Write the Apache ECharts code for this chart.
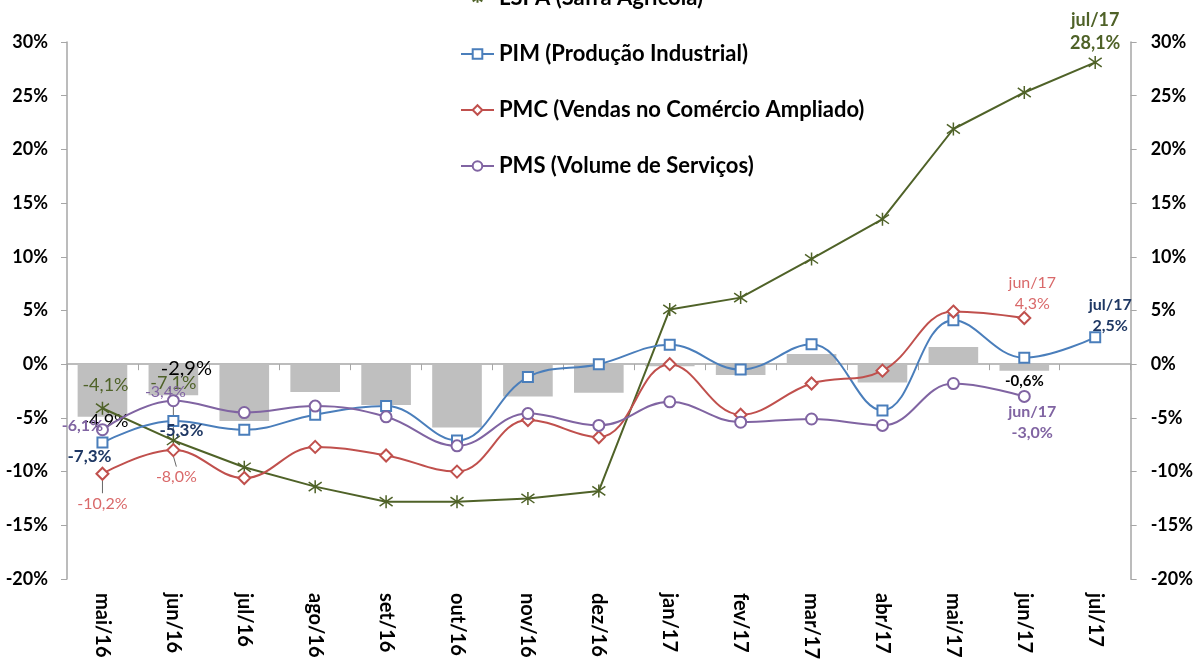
<!DOCTYPE html>
<html>
<head>
<meta charset="utf-8">
<script src="https://cdn.jsdelivr.net/npm/echarts@6/dist/echarts.min.js"></script>
<style>
  html, body { margin: 0; padding: 0; background: #fff; }
  #grafico { width: 1196px; height: 664px; }
</style>
</head>
<body>
<div id="grafico"></div>
<script>
// categorias (meses)
const meses = ['mai/16', 'jun/16', 'jul/16', 'ago/16', 'set/16', 'out/16', 'nov/16', 'dez/16',
  'jan/17', 'fev/17', 'mar/17', 'abr/17', 'mai/17', 'jun/17', 'jul/17'];
// barras cinzas
const barras = [-4.9, -2.9, -5.3, -2.6, -3.8, -5.9, -3.0, -2.65, -0.2, -1.0, 0.95, -1.7, 1.6, -0.6, null];
// LSPA (Safra Agrícola)
const lspa = [-4.1, -7.1, -9.6, -11.4, -12.8, -12.8, -12.5, -11.8, 5.1, 6.2, 9.8, 13.5, 21.9, 25.3, 28.1];
// PIM (Produção Industrial)
const pim = [-7.3, -5.3, -6.1, -4.7, -3.9, -7.1, -1.2, 0.0, 1.8, -0.5, 1.85, -4.3, 4.1, 0.6, 2.5];
// PMC (Vendas no Comércio Ampliado)
const pmc = [-10.2, -8.0, -10.6, -7.7, -8.5, -10.0, -5.2, -6.8, 0.0, -4.7, -1.8, -0.6, 4.9, 4.3, null];
// PMS (Volume de Serviços)
const pms = [-6.1, -3.4, -4.5, -3.9, -4.9, -7.6, -4.6, -5.7, -3.5, -5.4, -5.1, -5.7, -1.8, -3.0, null];
// marcas do eixo y
const eixoMin = -20, eixoMax = 30, eixoPasso = 5;

const fonte = 'Lato';
const pct = v => v.toFixed(1).replace('.', ',') + '%';

// monta os dados com rótulos em alguns pontos
// off = deslocamento do rótulo; linha = linha guia até o ponto
// comLayout = a série desloca os rótulos pelo labelLayout (offset fica zerado)
function comRotulos(valores, rotulos, comLayout) {
  return valores.map((v, i) => {
    const r = rotulos[i];
    if (!r || v == null) return v;
    return {
      value: v,
      label: {
        show: true,
        position: 'inside',
        offset: comLayout ? [0, 0] : r.off,
        formatter: (r.mes ? meses[i] + '\n' : '') + pct(v),
        color: r.cor,
        fontSize: r.tam || 15,
        fontWeight: r.negrito ? 'bold' : 'normal',
        lineHeight: (r.tam || 15) + 5,
        fontFamily: fonte
      },
      labelLine: { show: !!r.linha, lineStyle: { color: '#404040', width: 0.8 } }
    };
  });
}
function moverRotulos(rotulos) {
  return p => {
    const r = rotulos[p.dataIndex];
    return r ? { dx: r.off[0], dy: r.off[1] } : {};
  };
}

const rotBarras = {
  0: { off: [3, 31], cor: '#000', tam: 18 },
  1: { off: [13, -11], cor: '#000', tam: 20 },
  13: { off: [0, 14], cor: '#000', tam: 15, negrito: true }
};
const rotLspa = {
  0: { off: [3, -23], cor: '#4F6228', tam: 18 },
  1: { off: [0, -57], cor: '#4F6228', tam: 18, linha: true },
  14: { off: [0, -31], cor: '#4F6228', tam: 18, negrito: true, mes: true }
};
const rotPim = {
  0: { off: [-13, 14], cor: '#1F3864', tam: 17, negrito: true },
  1: { off: [8, 9], cor: '#1F3864', tam: 17, negrito: true },
  14: { off: [15, -22], cor: '#1F3864', tam: 16, negrito: true, mes: true }
};
const rotPmc = {
  0: { off: [0, 30], cor: '#D9696A', tam: 16, linha: true },
  1: { off: [3, 27], cor: '#D9696A', tam: 16, linha: true },
  13: { off: [8, -25], cor: '#D9696A', tam: 16, mes: true }
};
const rotPms = {
  0: { off: [-20, -4], cor: '#8064A2', tam: 16, negrito: true },
  1: { off: [-8, -9], cor: '#8064A2', tam: 16 },
  13: { off: [8, 26], cor: '#8064A2', tam: 16, negrito: true, mes: true }
};

const chartDom = document.getElementById('grafico');
const myChart = echarts.init(chartDom);

const option = {
  animation: false,
  backgroundColor: '#fff',
  textStyle: { fontFamily: fonte },
  grid: { left: 67, right: 63, top: 42, bottom: 85 },
  legend: {
    orient: 'vertical',
    left: 460,
    top: -13,
    padding: 0,
    itemWidth: 33,
    itemHeight: 12,
    itemGap: 34,
    textStyle: { fontFamily: fonte, fontSize: 22, fontWeight: 'bold', color: '#000', lineHeight: 21 },
    data: ['LSPA (Safra Agrícola)', 'PIM (Produção Industrial)', 'PMC (Vendas no Comércio Ampliado)', 'PMS (Volume de Serviços)']
  },
  xAxis: [
    {
      type: 'category',
      data: meses,
      position: 'bottom',
      axisLine: { show: false, onZero: false },
      axisTick: { show: false },
      axisLabel: { rotate: -90, margin: 14, color: '#000', fontSize: 20, fontWeight: 'bold', fontFamily: fonte }
    },
    {
      type: 'category',
      data: meses,
      position: 'bottom',
      axisLine: { show: true, onZero: true, onZeroAxisIndex: 0, lineStyle: { color: '#A6A6A6', width: 1.5 } },
      axisTick: { show: true, length: 6, lineStyle: { color: '#A6A6A6' } },
      axisLabel: { show: false }
    }
  ],
  yAxis: [
    {
      type: 'value', position: 'left', min: eixoMin, max: eixoMax, interval: eixoPasso,
      axisLine: { show: true, lineStyle: { color: '#A6A6A6', width: 1.5 } },
      axisTick: { show: true, length: 6, lineStyle: { color: '#A6A6A6' } },
      splitLine: { show: false },
      axisLabel: { formatter: '{value}%', margin: 19, color: '#000', fontSize: 18, fontWeight: 'bold', fontFamily: fonte }
    },
    {
      type: 'value', position: 'right', min: eixoMin, max: eixoMax, interval: eixoPasso,
      axisLine: { show: true, lineStyle: { color: '#A6A6A6', width: 1.5 } },
      axisTick: { show: true, length: 6, lineStyle: { color: '#A6A6A6' } },
      splitLine: { show: false },
      axisLabel: { formatter: '{value}%', margin: 20, color: '#000', fontSize: 18, fontWeight: 'bold', fontFamily: fonte }
    }
  ],
  series: [
    {
      name: 'Barras',
      type: 'bar',
      barCategoryGap: '30%',
      itemStyle: { color: '#BFBFBF' },
      data: comRotulos(barras, rotBarras, false),
      z: 1
    },
    {
      name: 'LSPA (Safra Agrícola)',
      type: 'line',
      symbol: 'path://M0,-10L0,10M-8,-7L8,7M-8,7L8,-7',
      symbolSize: 13,
      lineStyle: { color: '#4F6228', width: 2 },
      itemStyle: { color: '#4F6228', borderColor: '#4F6228', borderWidth: 1.5 },
      labelLayout: moverRotulos(rotLspa),
      data: comRotulos(lspa, rotLspa, true),
      z: 3
    },
    {
      name: 'PIM (Produção Industrial)',
      type: 'line',
      smooth: 0.4,
      symbol: 'emptyRect',
      symbolSize: 10,
      lineStyle: { color: '#4A7EBB', width: 2 },
      itemStyle: { color: '#4A7EBB', borderWidth: 1.8 },
      data: comRotulos(pim, rotPim, false),
      z: 4
    },
    {
      name: 'PMC (Vendas no Comércio Ampliado)',
      type: 'line',
      smooth: 0.4,
      symbol: 'emptyDiamond',
      symbolSize: 12,
      lineStyle: { color: '#C0504D', width: 2 },
      itemStyle: { color: '#C0504D', borderWidth: 1.8 },
      labelLayout: moverRotulos(rotPmc),
      data: comRotulos(pmc, rotPmc, true),
      z: 4
    },
    {
      name: 'PMS (Volume de Serviços)',
      type: 'line',
      smooth: 0.4,
      symbol: 'emptyCircle',
      symbolSize: 11,
      lineStyle: { color: '#8064A2', width: 2 },
      itemStyle: { color: '#8064A2', borderWidth: 1.8 },
      data: comRotulos(pms, rotPms, false),
      z: 4
    }
  ]
};

option && myChart.setOption(option);
</script>
</body>
</html>
